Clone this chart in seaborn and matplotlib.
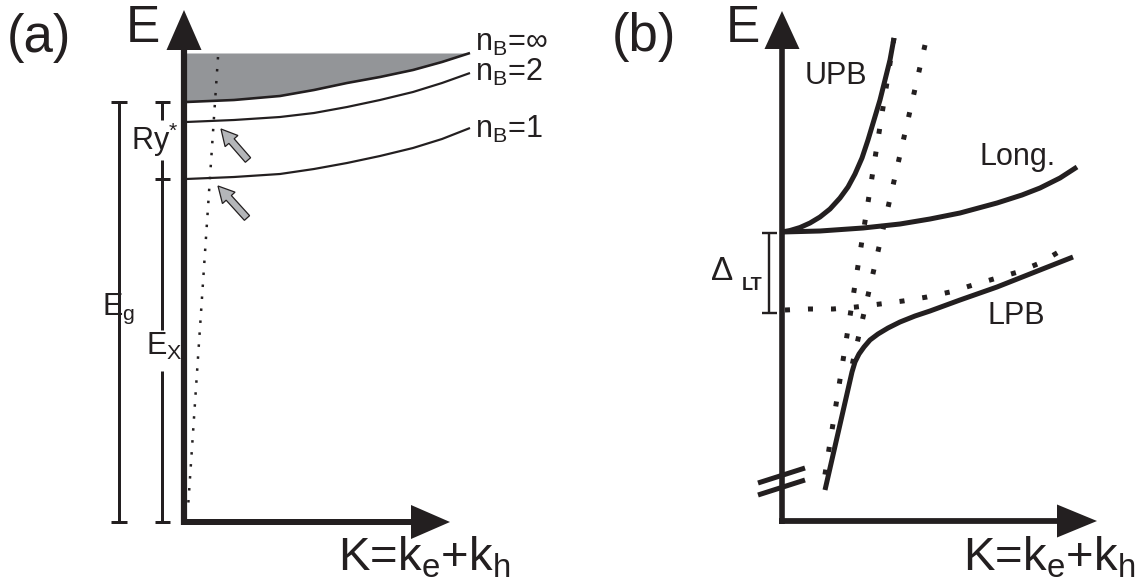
import matplotlib
matplotlib.use("Agg")
import matplotlib.pyplot as plt
import seaborn as sns

# panel (a): exciton levels, K and E measured from the axis corner
level_k = [2, 50, 96, 130, 163, 196, 229, 258, 286]
e_inf = [420, 422, 426, 432, 439, 445, 452, 460, 469]
e_n2 = [400, 402, 405, 409, 415, 422, 430, 439, 449]
e_n1 = [343, 345, 348, 353, 359, 366, 374, 383, 394]
level_labels = [r'n$_\mathregular{B}$=∞', r'n$_\mathregular{B}$=2', r'n$_\mathregular{B}$=1']
label_e = [479, 450, 393]
light_k = [34, 4]
light_e = [465, 14]
arrow_tail = [(64, 362), (63, 304)]
arrow_tip = [(37, 393), (34, 336)]
e_gap, e_exc = 420, 343

# panel (b): polariton branches
upb_k = [0, 8, 18, 28, 38, 48, 58, 66, 73, 80, 86, 92, 98, 103, 108, 112]
upb_e = [289, 290.5, 293.5, 298, 304, 312, 323, 334, 347, 363, 381, 401, 421, 441, 461, 483]
long_k = [0, 38, 81, 118, 148, 178, 215, 240, 258, 278, 295]
long_e = [289, 290, 293, 297, 302, 308, 318, 326, 333, 343, 354]
lpb_k = [43, 70, 73, 77, 82, 88, 96, 106, 118, 133, 148, 178, 215, 258, 291]
lpb_e = [31, 149, 159, 167, 174, 181, 187, 193, 199, 205, 210, 221, 234, 251, 264]
exc_k = [3, 27, 51, 74, 98, 121, 145, 168, 191, 215, 236, 258, 280]
exc_e = [211, 212, 212, 214, 217, 220, 224, 229, 236, 243, 249, 258, 271]
photon1_k = [112, 41]
photon1_e = [483, 34]
photon2_k = [143, 69]
photon2_e = [476, 151]
e_long, e_trans = 288, 208

INK = '#231f20'
PX = 0.72  # points per pixel at dpi 100

sns.set_theme(style="white")
plt.rcParams['font.family'] = ['Liberation Sans', 'DejaVu Sans']
plt.rcParams['mathtext.fontset'] = 'custom'
plt.rcParams['mathtext.rm'] = 'Liberation Sans'
plt.rcParams['mathtext.it'] = 'Liberation Sans:italic'
plt.rcParams['mathtext.bf'] = 'Liberation Sans:bold'


def axis_arrows(ax, e_tip, k_tip, head_v, head_h, lw_v, lw_h):
    hv = lw_v / 2
    hh = lw_h / 2
    ax.plot([0, 0], [-hh, e_tip - head_v[0] + 2], color=INK, lw=lw_v * PX, solid_capstyle='butt')
    ax.fill([0, -head_v[1], head_v[1]], [e_tip, e_tip - head_v[0], e_tip - head_v[0]], color=INK, lw=0)
    ax.plot([-hv, k_tip - head_h[0] + 2], [0, 0], color=INK, lw=lw_h * PX, solid_capstyle='butt')
    ax.fill([k_tip, k_tip - head_h[0], k_tip - head_h[0]], [0, -head_h[1], head_h[1]], color=INK, lw=0)


def bracket(ax, k, segments, caps, half, lw=3):
    for lo, hi in segments:
        ax.plot([k, k], [lo, hi], color=INK, lw=lw * PX, solid_capstyle='butt')
    for c in caps:
        ax.plot([k - half, k + half], [c, c], color=INK, lw=lw * PX, solid_capstyle='butt')


fig = plt.figure(figsize=(11.47, 5.88), dpi=100)
ax_a = fig.add_axes([0, 0, 573 / 1147, 1])
ax_b = fig.add_axes([573 / 1147, 0, 574 / 1147, 1])
ax_a.set_xlim(-184, 389)
ax_a.set_ylim(-66, 522)
ax_b.set_xlim(-209, 365)
ax_b.set_ylim(-67, 521)
for ax in (ax_a, ax_b):
    ax.axis('off')

# ---------- (a) ----------
ax = ax_a
ax.fill_between(level_k, e_inf, max(e_inf), color='#939598', lw=0)
for e, lw in [(e_inf, 2.6), (e_n2, 2.2), (e_n1, 2.2)]:
    sns.lineplot(x=level_k, y=e, ax=ax, color=INK, lw=lw * PX, sort=False,
                 estimator=None, solid_capstyle='butt')
for lab, e in zip(level_labels, label_e):
    ax.text(291, e, lab, fontsize=22, color=INK, va='center', ha='left')
ax.plot(light_k, light_e, color=INK, lw=2.5 * PX, ls=(0, (1, 3.8)), dash_capstyle='butt')
for (tk, te), (hk, he) in zip(arrow_tail, arrow_tip):
    ax.arrow(tk, te, hk - tk, he - te, width=7, head_width=17, head_length=16,
             length_includes_head=True, fc='#b4b6b9', ec=INK, lw=0.9)
axis_arrows(ax, 512, 266, (40, 17.5), (39, 17), 6.2, 6)
bracket(ax, -65, [(0, 230), (190, e_gap)], [0, e_gap], 8)
bracket(ax, -22, [(0, 151), (192, 362), (402, e_gap)], [0, e_exc, e_gap], 7.5)
ax.text(-65, 213, r'E$_\mathregular{g}$', fontsize=22, color=INK, ha='center', va='center')
ax.text(-20, 176, r'E$_\mathregular{X}$', fontsize=22, color=INK, ha='center', va='center')
ax.text(-29, 382, r'Ry$^{*}$', fontsize=22, color=INK, ha='center', va='center')
ax.text(-177, 484, '(a)', fontsize=38, color=INK, ha='left', va='center')
ax.text(-41, 493, 'E', fontsize=37, color=INK, ha='center', va='center')
ax.text(154, -48, r'K=k$_\mathregular{e}$+k$_\mathregular{h}$', fontsize=34, color=INK,
        ha='left', va='baseline')

# ---------- (b) ----------
ax = ax_b
dots = dict(color=INK, lw=5 * PX, ls=(0, (1, 3.6)), dash_capstyle='butt')
ax.plot(exc_k, exc_e, **dots)
ax.plot(photon1_k, photon1_e, **dots)
ax.plot(photon2_k, photon2_e, **dots)
for k, e in [(upb_k, upb_e), (long_k, long_e), (lpb_k, lpb_e)]:
    sns.lineplot(x=k, y=e, ax=ax, color=INK, lw=5 * PX, sort=False, estimator=None,
                 solid_capstyle='butt', solid_joinstyle='round')
axis_arrows(ax, 510, 315, (38, 17.5), (40, 16.5), 5.6, 5.8)
bracket(ax, -13, [(e_trans, e_long)], [e_trans, e_long], 7.5, lw=2.4)
ax.plot([-24, 23], [38, 53], color=INK, lw=5 * PX, solid_capstyle='butt')
ax.plot([-24, 23], [26, 41], color=INK, lw=5 * PX, solid_capstyle='butt')
ax.text(-60, 250, 'Δ', fontsize=24, color=INK, ha='center', va='center')
ax.text(-30, 236, 'LT', fontsize=13, fontweight='bold', color=INK, ha='center', va='center')
ax.text(23, 445, 'UPB', fontsize=22, color=INK, ha='left', va='center')
ax.text(198, 364, 'Long.', fontsize=22, color=INK, ha='left', va='center')
ax.text(206, 205, 'LPB', fontsize=22, color=INK, ha='left', va='center')
ax.text(-170, 484, '(b)', fontsize=38, color=INK, ha='left', va='center')
ax.text(-39, 492, 'E', fontsize=37, color=INK, ha='center', va='center')
ax.text(181, -49, r'K=k$_\mathregular{e}$+k$_\mathregular{h}$', fontsize=34, color=INK,
        ha='left', va='baseline')

fig.savefig('out.png', dpi=100)
